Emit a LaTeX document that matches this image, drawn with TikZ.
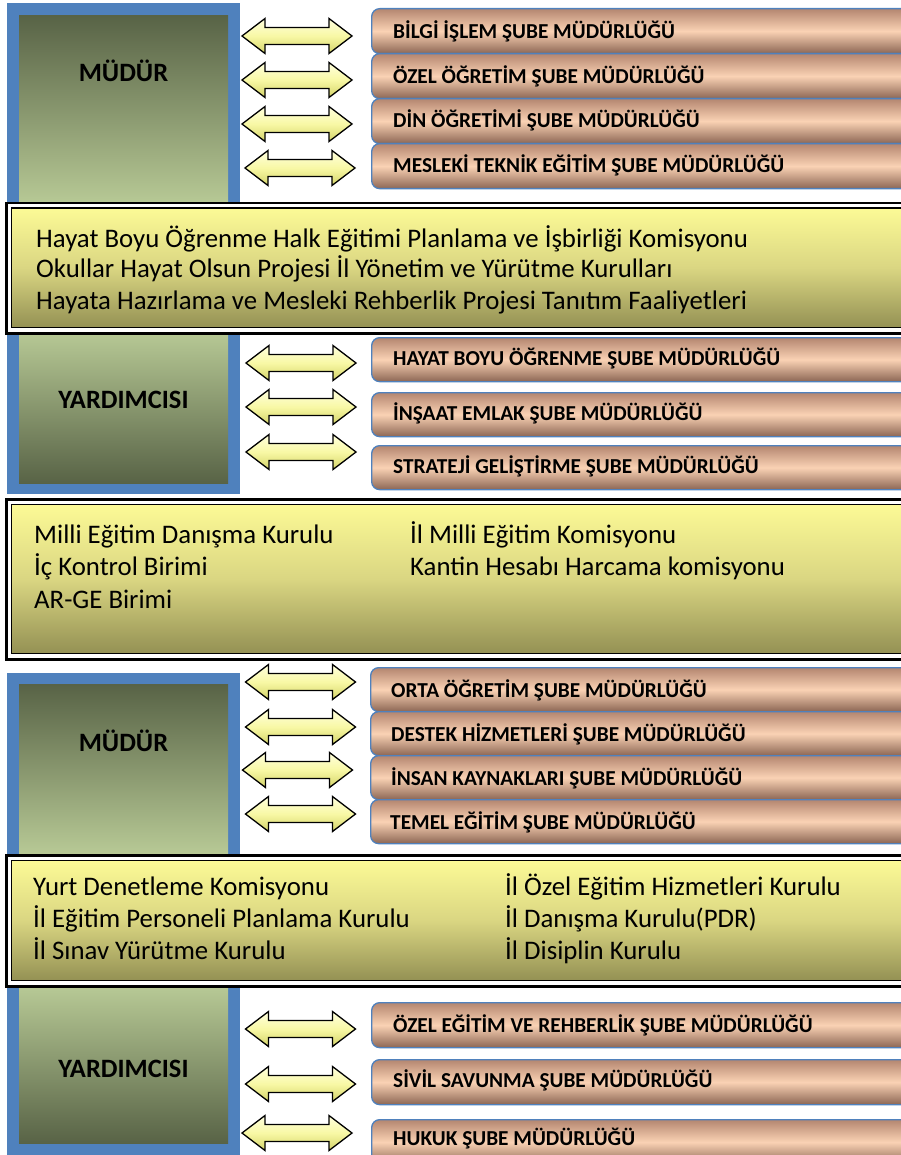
\documentclass[tikz,border=0pt]{standalone}
\usepackage{fontspec}
\setmainfont{Carlito}
\definecolor{frameblue}{RGB}{79,129,189}
\definecolor{gdark}{RGB}{88,99,70}
\definecolor{glight}{RGB}{184,202,150}
\definecolor{ytop}{RGB}{252,250,150}
\definecolor{ymid}{RGB}{218,214,130}
\definecolor{ybot}{RGB}{148,145,84}
\definecolor{otop}{RGB}{180,134,112}
\definecolor{omid}{RGB}{250,210,180}
\definecolor{obot}{RGB}{140,102,84}
\definecolor{atop}{RGB}{255,255,222}
\definecolor{amid}{RGB}{248,248,165}
\definecolor{abot}{RGB}{212,212,105}
\tikzset{
  bframe/.style={fill=frameblue, draw=none, inner sep=0, anchor=north west},
  gdown/.style={top color=gdark, bottom color=glight, draw=none, inner sep=0, anchor=north west, minimum width=209pt},
  gup/.style={top color=glight, bottom color=gdark, draw=none, inner sep=0, anchor=north west, minimum width=209pt},
  boldlabel/.style={font=\bfseries\fontsize{26.5}{30}\selectfont, inner sep=0, anchor=base},
  obox/.style={anchor=north west, inner sep=0, minimum width=580pt, rounded corners=8pt,
    draw=frameblue, line width=1.3pt, top color=otop, bottom color=obot, middle color=omid},
  otext/.style={font=\bfseries\fontsize{21.3}{25}\selectfont, inner sep=0, anchor=base west},
  youter/.style={anchor=north west, inner sep=0, minimum width=940pt, fill=white, draw=black, line width=2.5pt},
  yinner/.style={anchor=north west, inner sep=0, minimum width=930pt, draw=black, line width=1.4pt,
    top color=ytop, bottom color=ybot, middle color=ymid},
  ytext/.style={font=\fontsize{26.8}{31}\selectfont, inner sep=0, anchor=base west},
  arrowfill/.style={draw=black, line width=1.3pt, line join=miter, top color=atop, bottom color=abot, middle color=amid},
  pics/dblarrow/.style={code={
    \draw[arrowfill] (-55,0) -- (-32,-17.5) -- (-32,-8.5) -- (32,-8.5) -- (32,-17.5) -- (55,0)
      -- (32,17.5) -- (32,8.5) -- (-32,8.5) -- (-32,17.5) -- cycle;}}
}
\begin{document}
\begin{tikzpicture}[x=1pt, y=-1pt]
\useasboundingbox (0,0) rectangle (901,1155);
\fill[white] (0,0) rectangle (901,1155);
% ---------- left frames ----------
\node[bframe, minimum width=233pt, minimum height=491pt] (f1) at (7,3) {};
\node[bframe, minimum width=233pt, minimum height=500pt] (f2) at (7,673) {};
\node[gdown, minimum height=190pt] (g1) at (19,15) {};
\node[gup,   minimum height=153pt] (g2) at (19,330) {};
\node[gdown, minimum height=171pt] (g3) at (19,684) {};
\node[gup,   minimum height=158pt] (g4) at (19,985) {};
\node[boldlabel] (l1) at (123.5,81.5) {MÜDÜR};
\node[boldlabel] (l2) at (123.5,408.5) {YARDIMCISI};
\node[boldlabel] (l3) at (123.5,751.5) {MÜDÜR};
\node[boldlabel] (l4) at (123.5,1077.5) {YARDIMCISI};
% ---------- arrows ----------
\pic (a1) at (297,36) {dblarrow};
\pic (a2) at (297,80) {dblarrow};
\pic (a3) at (297,124) {dblarrow};
\pic (a4) at (300,168) {dblarrow};
\pic (a5) at (301,363) {dblarrow};
\pic (a6) at (301,407) {dblarrow};
\pic (a7) at (301,452) {dblarrow};
\pic (a8) at (300.5,682) {dblarrow};
\pic (a9) at (300.5,727) {dblarrow};
\pic (a10) at (297.5,770) {dblarrow};
\pic (a11) at (300.5,814) {dblarrow};
\pic (a12) at (300.5,1029) {dblarrow};
\pic (a13) at (300.5,1084) {dblarrow};
\pic (a14) at (297,1133) {dblarrow};
% ---------- right boxes ----------
\node[obox, minimum height=45pt] (b1) at (371,8) {};
\node[obox, minimum height=45pt] (b2) at (371,53) {};
\node[obox, minimum height=45pt] (b3) at (371,98) {};
\node[obox, minimum height=45pt] (b4) at (371,143) {};
\node[otext] (t1) at (393,39) {BİLGİ İŞLEM ŞUBE MÜDÜRLÜĞÜ};
\node[otext] (t2) at (393,83.5) {ÖZEL ÖĞRETİM ŞUBE MÜDÜRLÜĞÜ};
\node[otext] (t3) at (393,127.5) {DİN ÖĞRETİMİ ŞUBE MÜDÜRLÜĞÜ};
\node[otext] (t4) at (393,172.5) {MESLEKİ TEKNİK EĞİTİM ŞUBE MÜDÜRLÜĞÜ};
\node[obox, minimum height=44pt] (b5) at (371,337) {};
\node[obox, minimum height=44pt] (b6) at (371,392) {};
\node[obox, minimum height=44pt] (b7) at (371,445) {};
\node[otext] (t5) at (393,365.5) {HAYAT BOYU ÖĞRENME ŞUBE MÜDÜRLÜĞÜ};
\node[otext] (t6) at (393,420.5) {İNŞAAT EMLAK ŞUBE MÜDÜRLÜĞÜ};
\node[otext] (t7) at (393,473.5) {STRATEJİ GELİŞTİRME ŞUBE MÜDÜRLÜĞÜ};
\node[obox, minimum height=44pt] (b8) at (370,667) {};
\node[obox, minimum height=44pt] (b9) at (370,711) {};
\node[obox, minimum height=44pt] (b10) at (370,755) {};
\node[obox, minimum height=44pt] (b11) at (370,799) {};
\node[otext] (t8) at (391,697.5) {ORTA ÖĞRETİM ŞUBE MÜDÜRLÜĞÜ};
\node[otext] (t9) at (391,741.5) {DESTEK HİZMETLERİ ŞUBE MÜDÜRLÜĞÜ};
\node[otext] (t10) at (391,785.5) {İNSAN KAYNAKLARI ŞUBE MÜDÜRLÜĞÜ};
\node[otext] (t11) at (390,829.5) {TEMEL EĞİTİM ŞUBE MÜDÜRLÜĞÜ};
\node[obox, minimum height=45pt] (b12) at (371,1002) {};
\node[obox, minimum height=45pt] (b13) at (371,1059) {};
\node[obox, minimum height=45pt] (b14) at (371,1119) {};
\node[otext] (t12) at (393,1032.5) {ÖZEL EĞİTİM VE REHBERLİK ŞUBE MÜDÜRLÜĞÜ};
\node[otext] (t13) at (393,1087.5) {SİVİL SAVUNMA ŞUBE MÜDÜRLÜĞÜ};
\node[otext] (t14) at (393,1145.5) {HUKUK ŞUBE MÜDÜRLÜĞÜ};
% ---------- yellow boxes ----------
\node[youter, minimum height=130pt] (y1) at (5,202) {};
\node[yinner, minimum height=119pt] (y1i) at (11,207.5) {};
\node[ytext] (s1) at (36,248) {Hayat Boyu Öğrenme Halk Eğitimi Planlama ve İşbirliği Komisyonu};
\node[ytext] (s2) at (36,278) {Okullar Hayat Olsun Projesi İl Yönetim ve Yürütme Kurulları};
\node[ytext] (s3) at (36,309) {Hayata Hazırlama ve Mesleki Rehberlik Projesi Tanıtım Faaliyetleri};
\node[youter, minimum height=160pt] (y2) at (5,498) {};
\node[yinner, minimum height=149pt] (y2i) at (11,503.5) {};
\node[ytext] (s4) at (34,543) {Milli Eğitim Danışma Kurulu};
\node[ytext] (s5) at (34,575) {İç Kontrol Birimi};
\node[ytext] (s6) at (34,608) {AR-GE Birimi};
\node[ytext] (s7) at (410,543) {İl Milli Eğitim Komisyonu};
\node[ytext] (s8) at (410,575) {Kantin Hesabı Harcama komisyonu};
\node[youter, minimum height=131pt] (y3) at (5,854) {};
\node[yinner, minimum height=120pt] (y3i) at (11,859.5) {};
\node[ytext] (s9) at (33,895) {Yurt Denetleme Komisyonu};
\node[ytext] (s10) at (33,927) {İl Eğitim Personeli Planlama Kurulu};
\node[ytext] (s11) at (33,959) {İl Sınav Yürütme Kurulu};
\node[ytext] (s12) at (505,895) {İl Özel Eğitim Hizmetleri Kurulu};
\node[ytext] (s13) at (505,927) {İl Danışma Kurulu(PDR)};
\node[ytext] (s14) at (505,959) {İl Disiplin Kurulu};
\end{tikzpicture}
\end{document}
